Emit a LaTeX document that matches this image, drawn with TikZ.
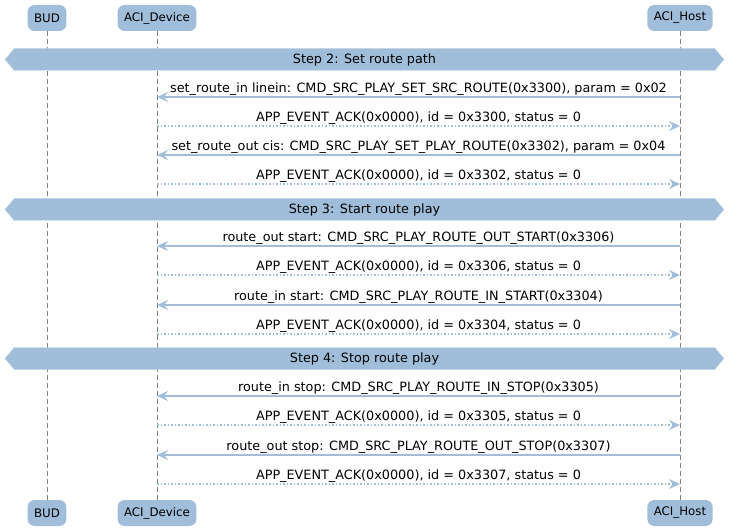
\documentclass[tikz,border=0pt]{standalone}
\usepackage{fontspec}
\setmainfont{DejaVu Sans}
\usetikzlibrary{shapes.symbols,arrows.meta}
\definecolor{seqblue}{HTML}{A0BEDA}
\tikzset{
  actor/.style={fill=seqblue, rounded corners=7pt, minimum height=26pt, inner xsep=6.5pt, font=\fontsize{11.8}{13}\selectfont},
  lifeline/.style={draw=gray, dash pattern=on 5pt off 3pt, line width=0.8pt},
  stepbar/.style={signal, signal to=west and east, signal pointer angle=100, fill=seqblue, draw=seqblue!60!white, minimum width=719pt, minimum height=22pt, inner sep=0pt, font=\fontsize{12.8}{15}\selectfont},
  msg/.style={seqblue, line width=1.5pt, -{Stealth[length=11pt,width=10pt,inset=4pt]}},
  ack/.style={msg, dotted},
  lbl/.style={above=-1pt, inner sep=2pt, text=black, font=\fontsize{12.8}{15}\selectfont}
}
\begin{document}
\begin{tikzpicture}[x=1pt,y=-1pt]
\useasboundingbox (0,0) rectangle (740,532);
% participants
\node[actor] (budT) at (47,18) {BUD};
\node[actor] (devT) at (157,18) {ACI\_Device};
\node[actor] (hostT) at (680,18) {ACI\_Host};
\node[actor] (budB) at (47,513) {BUD};
\node[actor] (devB) at (157,513) {ACI\_Device};
\node[actor] (hostB) at (680,513) {ACI\_Host};
\draw[lifeline] (budT) -- (budB);
\draw[lifeline] (devT) -- (devB);
\draw[lifeline] (hostT) -- (hostB);
% message ends on the lifelines
\foreach \i/\y in {1/97,2/126,3/155,4/184,5/246,6/275,7/305,8/334,9/396,10/425,11/455,12/484} {
  \coordinate (d\i) at (157,\y);
  \coordinate (h\i) at (680,\y);
}
% step 2
\node[stepbar] (s2) at (364.5,59.5) {Step 2: Set route path};
\draw[msg] (h1) -- node[lbl] {set\_route\_in linein: CMD\_SRC\_PLAY\_SET\_SRC\_ROUTE(0x3300), param = 0x02} (d1);
\draw[ack] (d2) -- node[lbl] {APP\_EVENT\_ACK(0x0000), id = 0x3300, status = 0} (h2);
\draw[msg] (h3) -- node[lbl] {set\_route\_out cis: CMD\_SRC\_PLAY\_SET\_PLAY\_ROUTE(0x3302), param = 0x04} (d3);
\draw[ack] (d4) -- node[lbl] {APP\_EVENT\_ACK(0x0000), id = 0x3302, status = 0} (h4);
% step 3
\node[stepbar] (s3) at (364.5,209.5) {Step 3: Start route play};
\draw[msg] (h5) -- node[lbl] {route\_out start: CMD\_SRC\_PLAY\_ROUTE\_OUT\_START(0x3306)} (d5);
\draw[ack] (d6) -- node[lbl] {APP\_EVENT\_ACK(0x0000), id = 0x3306, status = 0} (h6);
\draw[msg] (h7) -- node[lbl] {route\_in start: CMD\_SRC\_PLAY\_ROUTE\_IN\_START(0x3304)} (d7);
\draw[ack] (d8) -- node[lbl] {APP\_EVENT\_ACK(0x0000), id = 0x3304, status = 0} (h8);
% step 4
\node[stepbar] (s4) at (364.5,358.5) {Step 4: Stop route play};
\draw[msg] (h9) -- node[lbl] {route\_in stop: CMD\_SRC\_PLAY\_ROUTE\_IN\_STOP(0x3305)} (d9);
\draw[ack] (d10) -- node[lbl] {APP\_EVENT\_ACK(0x0000), id = 0x3305, status = 0} (h10);
\draw[msg] (h11) -- node[lbl] {route\_out stop: CMD\_SRC\_PLAY\_ROUTE\_OUT\_STOP(0x3307)} (d11);
\draw[ack] (d12) -- node[lbl] {APP\_EVENT\_ACK(0x0000), id = 0x3307, status = 0} (h12);
\end{tikzpicture}
\end{document}
